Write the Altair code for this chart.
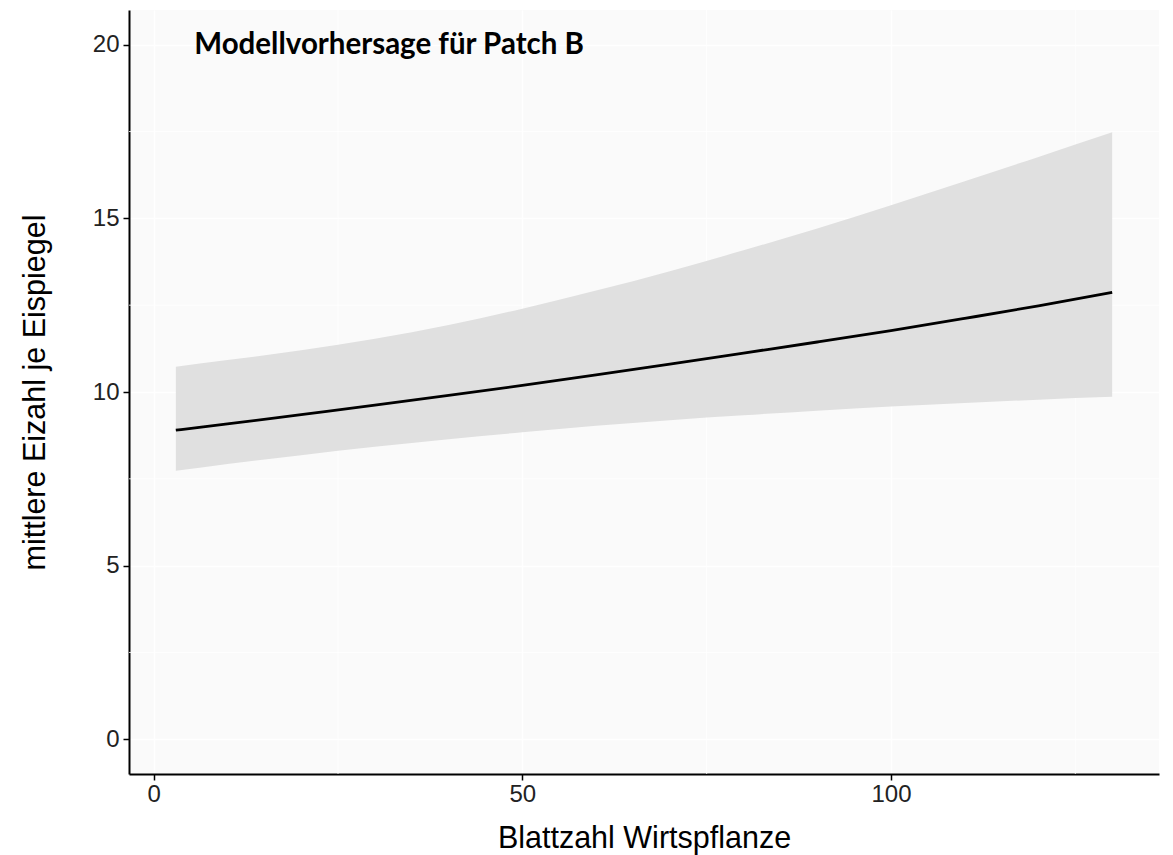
import altair as alt
import pandas as pd

# ---- data ----
x_vals = [3, 10, 20, 30, 40, 50, 60, 70, 80, 90, 100, 110, 120, 130]
fit = [8.90, 9.08, 9.35, 9.62, 9.90, 10.19, 10.49, 10.80, 11.12, 11.44, 11.77, 12.12, 12.48, 12.87]
lower = [7.73, 7.93, 8.18, 8.42, 8.64, 8.84, 9.03, 9.19, 9.33, 9.46, 9.58, 9.68, 9.78, 9.86]
upper = [10.73, 10.92, 11.20, 11.53, 11.93, 12.40, 12.92, 13.48, 14.08, 14.71, 15.38, 16.07, 16.77, 17.48]
minor_x = [25, 75, 125]
minor_y = [2.5, 7.5, 12.5, 17.5]
x_ticks = [0, 50, 100]
y_ticks = [0, 5, 10, 15, 20]
annot_text = "Modellvorhersage für Patch B"
annot_x = 5.5
annot_y = 20

df = pd.DataFrame({"x": x_vals, "fit": fit, "lower": lower, "upper": upper})
df_mx = pd.DataFrame({"x": minor_x})
df_my = pd.DataFrame({"y": minor_y})
df_t = pd.DataFrame({"x": [annot_x], "y": [annot_y], "t": [annot_text]})

xscale = alt.Scale(domain=[-3.35, 136.35], nice=False, zero=False)
yscale = alt.Scale(domain=[-1, 21], nice=False, zero=False)

FONT = "Liberation Sans"
xaxis = alt.Axis(
    title="Blattzahl Wirtspflanze", values=x_ticks, format="d",
    grid=True, gridColor="white", gridWidth=1.4,
    domainColor="black", domainWidth=2,
    tickColor="black", tickWidth=1.5, tickSize=6,
    labelFont=FONT, labelFontSize=24, labelColor="#222222", labelPadding=2,
    titleFont=FONT, titleFontSize=30.5, titleFontWeight="normal", titleColor="black",
    titlePadding=17,
)
yaxis = alt.Axis(
    title="mittlere Eizahl je Eispiegel", values=y_ticks, format="d",
    grid=True, gridColor="white", gridWidth=1.4,
    domainColor="black", domainWidth=2,
    tickColor="black", tickWidth=1.5, tickSize=6,
    labelFont=FONT, labelFontSize=24, labelColor="#222222", labelPadding=4,
    titleFont=FONT, titleFontSize=30.5, titleFontWeight="normal", titleColor="black",
    titlePadding=42,
)

rx = alt.Chart(df_mx).mark_rule(color="white", strokeWidth=0.8).encode(
    x=alt.X("x:Q", scale=xscale, axis=xaxis)
)
ry = alt.Chart(df_my).mark_rule(color="white", strokeWidth=0.8).encode(
    y=alt.Y("y:Q", scale=yscale, axis=yaxis)
)
band = alt.Chart(df).mark_area(color="#E0E0E0", opacity=1, interpolate="monotone").encode(
    x=alt.X("x:Q", scale=xscale, axis=xaxis),
    y=alt.Y("lower:Q", scale=yscale, axis=yaxis),
    y2="upper:Q",
)
line = alt.Chart(df).mark_line(color="black", strokeWidth=2.8, interpolate="monotone").encode(
    x=alt.X("x:Q", scale=xscale, axis=xaxis),
    y=alt.Y("fit:Q", scale=yscale, axis=yaxis),
)
txt = alt.Chart(df_t).mark_text(
    align="left", baseline="middle", font="Lato", fontWeight="bold",
    fontSize=29.5, color="black"
).encode(
    x=alt.X("x:Q", scale=xscale, axis=xaxis),
    y=alt.Y("y:Q", scale=yscale, axis=yaxis),
    text="t:N",
)

chart = alt.layer(rx, ry, band, line, txt).properties(
    width=1030, height=764,
    autosize=alt.AutoSizeParams(type="none"),
    padding={"left": 121, "top": 2, "right": 6, "bottom": 85},
    background="white",
).configure_view(fill="#FAFAFA", strokeWidth=0)

chart.save("out.html", embed_options={"renderer": "svg", "actions": False})
